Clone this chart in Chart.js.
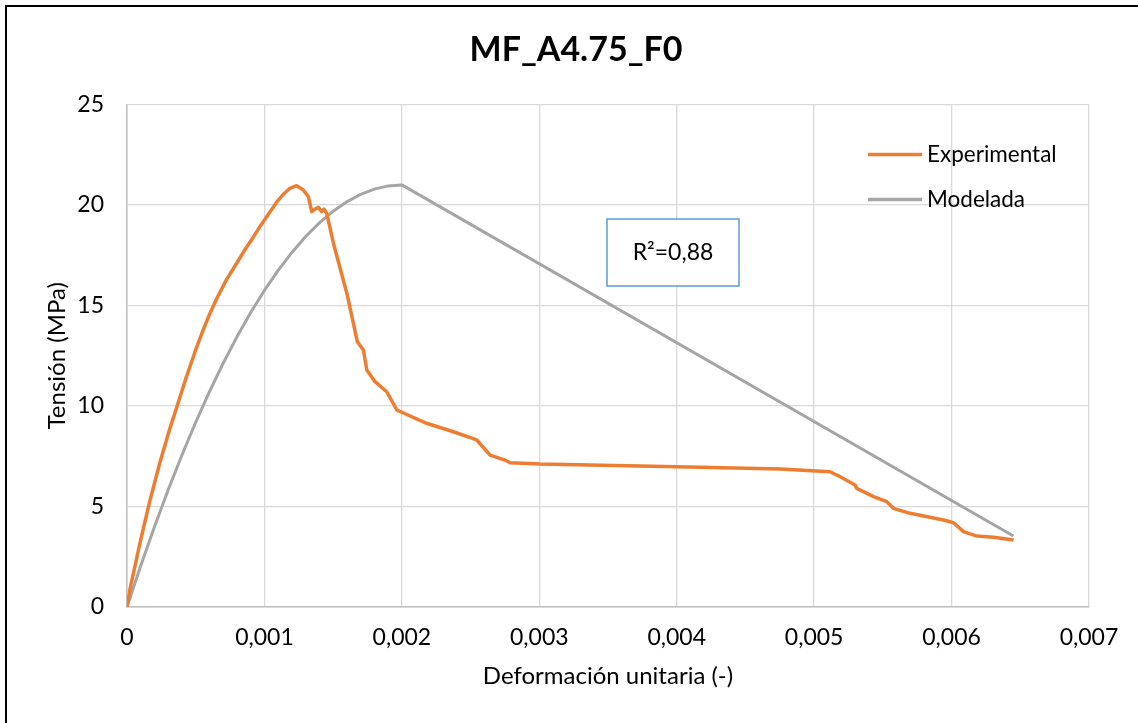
<!DOCTYPE html>
<html>
<head>
<meta charset="utf-8">
<script src="https://cdn.jsdelivr.net/npm/chart.js@4.4.0/dist/chart.umd.min.js"></script>
<style>
body{margin:0;background:#fff}
#frame{position:absolute;left:5px;top:5px;width:1140px;height:730px;border-left:2px solid #000;border-top:2px solid #000;pointer-events:none}
</style>
</head>
<body>
<canvas id="myChart" width="1138" height="723"></canvas>
<div id="frame"></div>
<script>
// chart data
const chartTitle = 'MF_A4.75_F0';
const seriesNames = ['Experimental', 'Modelada'];
const r2Text = 'R²=0,88';

const expStrain = [0, 0.000022, 0.000095, 0.000167, 0.00024, 0.000313, 0.000374, 0.00043, 0.000495, 0.000555,
    0.0006, 0.000653, 0.000725, 0.000798, 0.00086, 0.000919, 0.00096, 0.001, 0.00105, 0.00109, 0.00114,
    0.001186, 0.001235, 0.001283, 0.00132,
    0.001344, 0.001368, 0.001393, 0.001417, 0.001434, 0.001453, 0.001502, 0.0016, 0.001676, 0.00172,
    0.001745, 0.001805, 0.00189, 0.001963, 0.00218, 0.002375, 0.002545, 0.002642, 0.002751, 0.002787,
    0.003006, 0.004, 0.004753, 0.005116, 0.00519, 0.005298, 0.00531, 0.005432, 0.005529, 0.005577,
    0.005699, 0.005941, 0.006014, 0.006087, 0.006184, 0.006305, 0.006451];
const expStress = [0, 0.9, 3.2, 5.3, 7.2, 8.9, 10.2, 11.4, 12.7, 13.8,
    14.55, 15.35, 16.3, 17.1, 17.8, 18.4, 18.85, 19.25, 19.75, 20.15, 20.55,
    20.83, 20.96, 20.75, 20.41,
    19.67, 19.8, 19.88, 19.67, 19.79, 19.59, 18.1, 15.6, 13.2, 12.79,
    11.79, 11.21, 10.71, 9.8, 9.14, 8.72, 8.31, 7.56, 7.31, 7.18,
    7.11, 6.98, 6.87, 6.73, 6.48, 6.07, 5.9, 5.49, 5.24, 4.91,
    4.66, 4.33, 4.19, 3.75, 3.53, 3.47, 3.33];

const modStrain = [0, 0.0001, 0.0002, 0.0003, 0.0004, 0.0005, 0.0006, 0.0007, 0.0008, 0.0009, 0.001,
    0.0011, 0.0012, 0.0013, 0.0014, 0.0015, 0.0016, 0.0017, 0.0018, 0.0019, 0.002, 0.00645];
const modStress = [0, 2.05, 3.99, 5.83, 7.56, 9.19, 10.71, 12.13, 13.44, 14.65, 15.75,
    16.75, 17.64, 18.43, 19.11, 19.69, 20.16, 20.53, 20.79, 20.95, 21.0, 3.53];

const xTicks = [0, 0.001, 0.002, 0.003, 0.004, 0.005, 0.006, 0.007];
const yTicks = [0, 5, 10, 15, 20, 25];

const colors = ['#ED7D31', '#A5A5A5'];
const font = 'Lato';

function toPoints(xs, ys) {
    return xs.map((x, i) => ({x: x, y: ys[i]}));
}

function fmtTick(v) {
    if (v === 0) return '0';
    return v.toFixed(3).replace('.', ',');
}

// title, legend and R2 box
const overlay = {
    id: 'overlay',
    afterDraw(chart) {
        const ctx = chart.ctx;
        const area = chart.chartArea;
        ctx.save();
        ctx.fillStyle = '#000';
        ctx.textBaseline = 'middle';

        ctx.font = 'bold 34px ' + font;
        ctx.textAlign = 'center';
        ctx.fillText(chartTitle, 576, 50);

        ctx.font = '22.5px ' + font;
        ctx.textAlign = 'left';
        for (let i = 0; i < seriesNames.length; i++) {
            const y = area.top + 50 + i * 45;
            ctx.strokeStyle = colors[i];
            ctx.lineWidth = 3.5;
            ctx.beginPath();
            ctx.moveTo(area.right - 221, y);
            ctx.lineTo(area.right - 167, y);
            ctx.stroke();
            ctx.fillText(seriesNames[i], area.right - 162, y);
        }

        const bx = 607, by = 219, bw = 132, bh = 67;
        ctx.fillStyle = '#fff';
        ctx.fillRect(bx, by, bw, bh);
        ctx.strokeStyle = '#5B9BD5';
        ctx.lineWidth = 1.5;
        ctx.strokeRect(bx, by, bw, bh);
        ctx.fillStyle = '#000';
        ctx.font = '23px ' + font;
        ctx.textAlign = 'center';
        ctx.fillText(r2Text, bx + bw / 2, by + bh / 2);
        ctx.restore();
    }
};

const config = {
    type: 'line',
    data: {
        datasets: [{
            label: seriesNames[0],
            data: toPoints(expStrain, expStress),
            borderColor: colors[0],
            backgroundColor: colors[0],
            borderWidth: 3.5,
            borderJoinStyle: 'round',
            pointRadius: 0,
            tension: 0
        }, {
            label: seriesNames[1],
            data: toPoints(modStrain, modStress),
            borderColor: colors[1],
            backgroundColor: colors[1],
            borderWidth: 3,
            borderJoinStyle: 'round',
            pointRadius: 0,
            tension: 0
        }]
    },
    options: {
        responsive: false,
        animation: false,
        devicePixelRatio: 1,
        layout: {padding: {top: 104.5, right: 49, bottom: 0, left: 0}},
        plugins: {
            legend: {display: false},
            title: {display: false},
            tooltip: {enabled: false}
        },
        scales: {
            x: {
                type: 'linear',
                min: 0,
                max: 0.007,
                afterBuildTicks: (s) => { s.ticks = xTicks.map(v => ({value: v})); },
                afterFit: (s) => { s.height = 116; },
                ticks: {
                    padding: 17,
                    color: '#000',
                    font: {family: font, size: 23},
                    callback: (v) => fmtTick(v),
                    maxRotation: 0
                },
                grid: {color: '#D9D9D9', lineWidth: 1.3, drawTicks: false},
                border: {color: '#BFBFBF', width: 1.5},
                title: {
                    display: true,
                    text: 'Deformación unitaria (-)',
                    color: '#000',
                    font: {family: font, size: 24},
                    padding: {top: 0, bottom: 32}
                }
            },
            y: {
                min: 0,
                max: 25,
                afterBuildTicks: (s) => { s.ticks = yTicks.map(v => ({value: v})); },
                afterFit: (s) => { s.width = 127; },
                ticks: {
                    padding: 23,
                    color: '#000',
                    font: {family: font, size: 23}
                },
                grid: {color: '#D9D9D9', lineWidth: 1.3, drawTicks: false},
                border: {color: '#BFBFBF', width: 1.5},
                title: {
                    display: true,
                    text: 'Tensión (MPa)',
                    color: '#000',
                    font: {family: font, size: 24},
                    padding: {top: 43, bottom: 0}
                }
            }
        }
    },
    plugins: [overlay]
};

const myChart = new Chart(document.getElementById('myChart'), config);
</script>
</body>
</html>
